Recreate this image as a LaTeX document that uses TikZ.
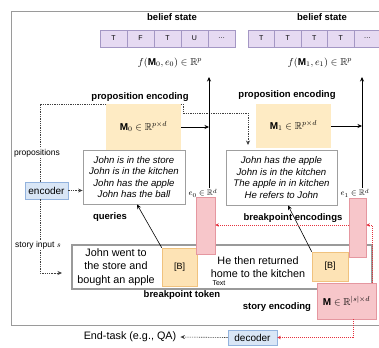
\documentclass[tikz,border=0pt]{standalone}
\usepackage{fontspec}
\setmainfont{Liberation Sans}
\usepackage{amsmath,amssymb}
\usetikzlibrary{arrows.meta}

\definecolor{framegray}{HTML}{9A9A9A}
\definecolor{cellfill}{HTML}{E6DAF2}
\definecolor{celldraw}{HTML}{A497C4}
\definecolor{memfill}{HTML}{FEEBC4}
\definecolor{bfill}{HTML}{FDE3B5}
\definecolor{bdraw}{HTML}{F0C27E}
\definecolor{pinkfill}{HTML}{F7C6CA}
\definecolor{pinkdraw}{HTML}{E597A0}
\definecolor{encfill}{HTML}{D9E6F6}
\definecolor{encdraw}{HTML}{93B3DE}
\definecolor{reddot}{HTML}{E5323E}

\tikzset{
  cell/.style={draw=celldraw, fill=cellfill, line width=0.5pt, minimum width=27, minimum height=17,
               inner sep=0, font=\fontsize{7}{8}\selectfont},
  lbl/.style={font=\bfseries\fontsize{9.5}{10}\selectfont, inner sep=1pt},
  small/.style={font=\fontsize{8.5}{9}\selectfont, inner sep=1pt},
  mathlbl/.style={font=\fontsize{10}{11}\selectfont, inner sep=1pt},
  propbox/.style={draw=gray!75, line width=0.8pt, fill=white, align=center, inner sep=0,
                  font=\itshape\fontsize{9.6}{11.5}\selectfont},
  membox/.style={fill=memfill, inner sep=0, font=\fontsize{10}{11}\selectfont},
  btok/.style={draw=bdraw, fill=bfill, line width=0.6pt, inner sep=0, font=\fontsize{9}{10}\selectfont},
  pinkbar/.style={draw=pinkdraw, fill=pinkfill, line width=0.6pt, inner sep=0},
  netbox/.style={draw=encdraw, fill=encfill, line width=0.6pt, inner sep=0, font=\fontsize{10}{11}\selectfont},
  storytxt/.style={align=center, inner sep=0, font=\fontsize{10.8}{13.5}\selectfont},
  arr/.style={-{Stealth[length=4.5pt,width=4pt]}, line width=0.6pt},
  dsh/.style={black!75, line width=0.6pt, dash pattern=on 1.3pt off 1pt},
  rdot/.style={reddot, line width=0.6pt, dash pattern=on 1pt off 1pt},
}

\begin{document}
\begin{tikzpicture}[x=1pt,y=-1pt]
\useasboundingbox (0,0) rectangle (379,347);

% outer frame
\draw[framegray, line width=1pt] (392,12) -- (11,12) -- (11,325) -- (392,325);

% belief states
\node[lbl] (bs0) at (172,17) {belief state};
\node[lbl] (bs1) at (322,17) {belief state};
\foreach \t [count=\i] in {T,F,T,U,\dots}
  \node[cell] (ba\i) at (100+27*\i-13.5,38.5) {\t};
\foreach \t [count=\i] in {T,T,T,T,\dots}
  \node[cell, minimum width=26.5] (bb\i) at (248+26.5*\i-13.25,38.5) {\t};
\node[mathlbl] (f0) at (170,63) {$f(\mathbf{M}_0, e_0)\in\mathbb{R}^p$};
\node[mathlbl] (f1) at (320,63) {$f(\mathbf{M}_1, e_1)\in\mathbb{R}^p$};

% left-hand labels and encoder
\node[netbox, minimum width=43, minimum height=17] (enc) at (46.5,190.5) {encoder};
\coordinate (dl) at (40,0);
\coordinate (q1) at (248,0);
\draw[dsh] (dl |- enc.north) -- (40,104) -- (183,104) -- (183,113) -- (248,113) -- (248,140);
\draw[dsh, arr] (248,139) -- (248,145);
\draw[dsh] (dl |- enc.south) -- (40,273) -- (56,273);
\draw[dsh, arr] (55,273) -- (62,273);
\node[small, fill=white] (props) at (37,153) {propositions};
\node[small, fill=white] (sin) at (38,245) {story input $s$};

% proposition encodings
\node[lbl] (pe0) at (140,97) {proposition encoding};
\node[lbl] (pe1) at (287,95) {proposition encoding};
\node[propbox, minimum width=102, minimum height=54] (p0) at (134,177)
  {John is in the store\\John is in the kitchen\\John has the apple\\John has the ball};
\node[propbox, minimum width=111, minimum height=55] (p1) at (281.5,177.5)
  {John has the apple\\John is in the kitchen\\The apple in in kitchen\\He refers to John};
\node[membox, minimum width=75, minimum height=46] (m0) at (143.5,127) {$\mathbf{M}_0\in\mathbb{R}^{p\times d}$};
\node[membox, minimum width=75, minimum height=44] (m1) at (293.5,126) {$\mathbf{M}_1\in\mathbb{R}^{p\times d}$};
\draw[dsh, arr] (enc.east) -- (p0.west |- enc.east);

% story input
\node[draw=framegray, line width=1.3pt, minimum width=300, minimum height=44, inner sep=0] (story) at (222,267) {};
\node[storytxt] (s0) at (116,267) {John went to\\the store and\\bought an apple};
\node[storytxt] (s1) at (258,267) {He then returned\\home to the kitchen};
\node[font=\fontsize{7}{8}\selectfont, inner sep=0] (tx) at (219,283) {Text};
\node[btok, minimum width=35, minimum height=38] (b0) at (179.5,267) {[B]};
\node[btok, minimum width=36, minimum height=29] (b1) at (330,266.5) {[B]};

% breakpoint encodings
\node[pinkbar, minimum width=19, minimum height=57] (e0bar) at (205.5,225.5) {};
\node[pinkbar, minimum width=17, minimum height=59] (e1bar) at (357.5,227.5) {};
\node[font=\fontsize{8}{9}\selectfont, inner sep=0.5pt] (e0) at (203,193) {$e_0\in\mathbb{R}^d$};
\node[font=\fontsize{8}{9}\selectfont, inner sep=0.5pt] (e1) at (355,193) {$e_1\in\mathbb{R}^d$};
\coordinate (t0) at (209,77);
\coordinate (t1) at (362,77);
\draw[arr] (e0.north -| t0) -- (t0);
\draw[arr] (e1.north -| t1) -- (t1);
\draw[arr] (m0.east) -- (m0.east -| t0);
\draw[arr] (m1.east) -- (m1.east -| t1);

% queries from breakpoint tokens
\node[lbl] (qlab) at (110,217) {queries};
\node[lbl] (belab) at (293,218) {breakpoint encodings};
\coordinate (a0) at (137,0);
\coordinate (a1) at (288,0);
\draw[arr] (b0.north west) -- (a0 |- p0.south);
\draw[arr] (b1.north west) -- (a1 |- p1.south);

% story encoding
\node[lbl] (btl) at (182,295) {breakpoint token};
\node[lbl] (sel) at (277,307) {story encoding};
\node[pinkbar, minimum width=59, minimum height=36, font=\fontsize{10}{11}\selectfont] (mem) at (346.5,301)
  {$\mathbf{M}\in\mathbb{R}^{|s|\times d}$};

% red flows
\coordinate (rc) at (372,225);
\coordinate (rd) at (353,0);
\draw[rdot, -{Stealth[length=3.5pt,width=3.5pt]}] (mem.north -| rc) -- (rc) -- (rc -| e1bar.east);
\draw[rdot, -{Stealth[length=3.5pt,width=3.5pt]}] (rc -| e1bar.west) -- (rc -| e0bar.east);

% decoder and end task
\node[netbox, minimum width=49, minimum height=15] (dec) at (252.5,337.5) {decoder};
\node[font=\fontsize{10.8}{12}\selectfont, inner sep=1pt] (task) at (130,337) {End-task (e.g., QA)};
\draw[rdot, -{Stealth[length=3.5pt,width=3.5pt]}] (rd |- mem.south) -- (rd |- dec.east) -- (dec.east);
\draw[dsh, arr] (dec.west) -- ([xshift=3pt]task.east);
\end{tikzpicture}
\end{document}
